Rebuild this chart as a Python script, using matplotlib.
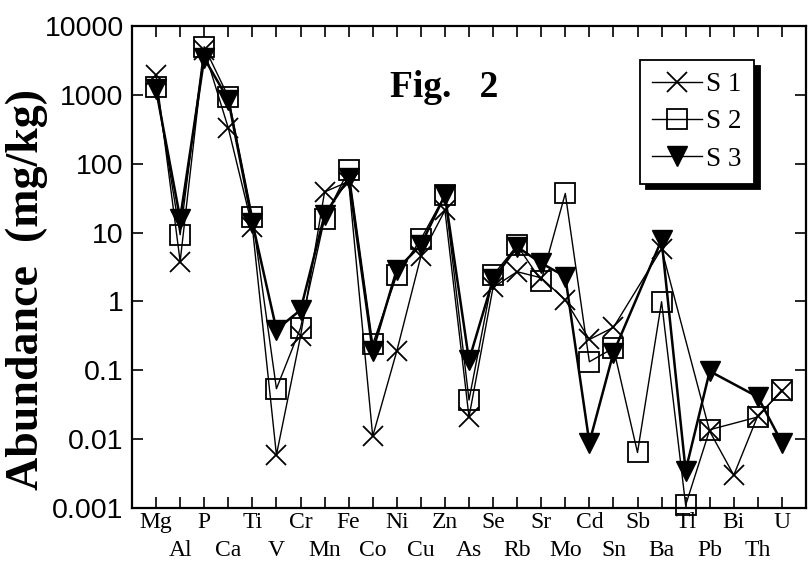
import numpy as np
import matplotlib
matplotlib.use("Agg")
import matplotlib.pyplot as plt
from matplotlib.lines import Line2D

nan = np.nan
elements = ['Mg', 'Al', 'P', 'Ca', 'Ti', 'V', 'Cr', 'Mn', 'Fe', 'Co', 'Ni', 'Cu', 'Zn', 'As',
            'Se', 'Rb', 'Sr', 'Mo', 'Cd', 'Sn', 'Sb', 'Ba', 'Tl', 'Pb', 'Bi', 'Th', 'U']
s1 = [1950, 3.8, 4500, 330, 12, 0.0059, 0.31, 39, 55, 0.011, 0.19, 4.5, 21, 0.021,
      1.6, 2.7, 2.2, 1.05, 0.28, 0.42, nan, 5.8, nan, 0.013, 0.0030, 0.022, 0.05]
s2 = [1300, 9.3, 5000, 940, 17, 0.054, 0.41, 16, 81, 0.24, 2.4, 8.0, 35, 0.037,
      2.4, 6.5, 2.0, 37, 0.133, 0.21, 0.0064, 0.99, 0.0011, 0.0137, nan, 0.021, 0.052]
s3 = [1200, 16, 3400, 850, 14, 0.39, 0.75, 18, 62, 0.19, 2.9, 6.6, 35, 0.14,
      2.1, 6.2, 3.6, 2.3, 0.0089, 0.18, nan, 7.8, 0.0035, 0.097, nan, 0.041, 0.0089]
series_names = ['S 1', 'S 2', 'S 3']
ytick_vals = [0.001, 0.01, 0.1, 1, 10, 100, 1000, 10000]
ytick_labels = ['0.001', '0.01', '0.1', '1', '10', '100', '1000', '10000']

fig = plt.figure(figsize=(8.08, 5.65), dpi=100)
ax = fig.add_axes([132/808, 1-508/565, 674/808, 482/565])

x = np.arange(len(elements))
styles = [
    dict(marker='x', ms=15, mew=1.3, color='k', lw=1.0, mfc='k'),
    dict(marker='s', ms=15, mew=1.3, color='k', lw=1.0, mfc='none'),
    dict(marker='v', ms=15, mew=1.0, color='k', lw=1.8, mfc='k'),
]
handles = []
for vals, st, name in zip([s1, s2, s3], styles, series_names):
    v = np.array(vals, dtype=float)
    m = np.isfinite(v)
    ax.plot(x[m], v[m], **st, clip_on=False)
    handles.append(Line2D([], [], marker=st['marker'], ms=st['ms'], mew=st['mew'],
                          color='k', lw=1.0, mfc=st['mfc'], label=name))

ax.set_yscale('log')
ax.set_ylim(0.001, 10000)
ax.set_xlim(-1, len(elements))
ax.set_yticks(ytick_vals)
ax.set_yticklabels(ytick_labels, family='Liberation Sans', fontsize=20.5)
ax.yaxis.set_minor_locator(matplotlib.ticker.NullLocator())

# alternate element labels on two rows
ax.set_xticks(x[::2])
ax.set_xticklabels(elements[::2], family='Liberation Serif', fontsize=17)
ax.set_xticks(x[1::2], minor=True)
ax.set_xticklabels(elements[1::2], minor=True, family='Liberation Serif', fontsize=17)
ax.tick_params(axis='x', which='both', direction='in', length=8, width=1.2, top=True)
ax.tick_params(axis='x', which='major', pad=3)
ax.tick_params(axis='x', which='minor', pad=23)
ax.tick_params(axis='y', direction='in', length=8, width=1.2, right=True, pad=6)
for sp in ax.spines.values():
    sp.set_linewidth(1.6)

fig.text(27/808, 1-290/565, 'Abundance  (mg/kg)', family='Liberation Serif',
         fontweight='bold', fontsize=33, rotation=90, ha='center', va='center')

fig.text(390/808, 1-97/565, 'Fig.   2', family='Liberation Serif', fontweight='bold',
         fontsize=27, va='baseline', ha='left')

leg = ax.legend(handles=handles, loc='upper left',
                bbox_to_anchor=((640-132)/674, (508-60)/482), borderaxespad=0,
                fancybox=False, edgecolor='k', framealpha=1,
                shadow={'ox': 4, 'oy': -4, 'color': 'k', 'alpha': 1},
                prop={'family': 'Liberation Serif', 'size': 19.5},
                handlelength=1.85, handletextpad=0.15, labelspacing=0.45,
                borderpad=0.45, numpoints=1)
leg.get_frame().set_linewidth(1.3)

fig.savefig('out.png', dpi=100)
